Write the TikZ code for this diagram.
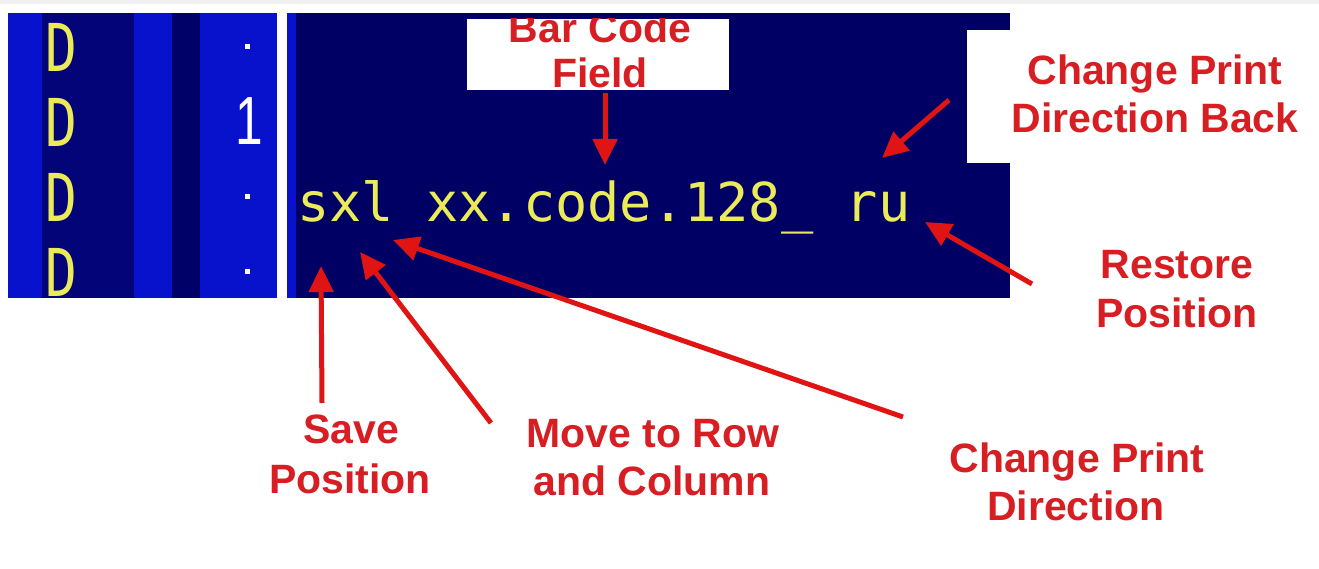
\documentclass[tikz,border=0pt]{standalone}
\usepackage{fontspec}
\usepackage{graphicx}
\setmainfont{Liberation Sans}
\newfontfamily\monofont{DejaVu Sans Mono}
\usetikzlibrary{arrows.meta}
\definecolor{navy}{RGB}{0,0,100}
\definecolor{midblue}{RGB}{2,4,120}
\definecolor{darkstripe}{RGB}{0,0,105}
\definecolor{brightblue}{RGB}{8,18,205}
\definecolor{lblred}{RGB}{215,30,35}
\definecolor{arrred}{RGB}{225,20,20}
\definecolor{termyellow}{RGB}{235,235,90}
\begin{document}
\begin{tikzpicture}[x=1pt,y=-1pt,
  lab/.style={text=lblred, font=\fontsize{41}{48}\selectfont\bfseries, inner sep=0pt, anchor=base},
  pointer/.style={draw=arrred, line width=5pt, -{Triangle[length=26pt,width=24pt]}},
  dletter/.style={text=termyellow, font=\monofont\fontsize{66}{70}\selectfont, inner sep=0pt},
  dotmark/.style={fill=white, minimum size=5pt, inner sep=0pt}]
\useasboundingbox (0,0) rectangle (1319,569);
\fill[white] (0,0) rectangle (1319,569);
\fill[gray!12] (0,0) rectangle (1319,4);
% left panel
\fill[brightblue] (8,13) rectangle (277,298);
\fill[midblue] (42,13) rectangle (134,298);
\fill[darkstripe] (172,13) rectangle (200,298);
\node[dletter] (d1) at (61,47.5) {\scalebox{0.8}[1]{D}};
\node[dletter] (d2) at (61,122.5) {\scalebox{0.8}[1]{D}};
\node[dletter] (d3) at (61,197.5) {\scalebox{0.8}[1]{D}};
\node[dletter] (d4) at (61,272.5) {\scalebox{0.8}[1]{D}};
\node[dotmark] (p1) at (247,47) {};
\node[text=white, font=\fontsize{62}{62}\selectfont, inner sep=0pt] (one) at (249,121) {\scalebox{0.8}[1.1]{1}};
\node[dotmark] (p3) at (247,197) {};
\node[dotmark] (p4) at (247,272) {};
% right panel
\fill[navy] (287,13) rectangle (1010,298);
\fill[brightblue] (287,13) rectangle (296,298);
\fill[white] (967,30) rectangle (1010,163);
\node[fill=white, minimum width=262pt, minimum height=71pt, inner sep=0pt] (bcbox) at (598,54.5) {};
\begin{scope}
\clip (467,19) rectangle (729,90);
\node[lab] (bc1) at (600,43) {Bar Code};
\node[lab] (bc2) at (600,88) {Field};
\end{scope}
\node[text=termyellow, font=\monofont\fontsize{53.6}{60}\selectfont, inner sep=0pt, anchor=base west] (cmd) at (297,222) {sxl xx.code.128\_ ru};
% labels
\node[lab] (cpb1) at (1155,85) {Change Print};
\node[lab] (cpb2) at (1155,133) {Direction Back};
\node[lab] (rp1) at (1177,279) {Restore};
\node[lab] (rp2) at (1177,327) {Position};
\node[lab] (cpd1) at (1077,472) {Change Print};
\node[lab] (cpd2) at (1076,520) {Direction};
\node[lab] (sp1) at (351,443) {Save};
\node[lab] (sp2) at (350,493) {Position};
\node[lab] (mrc1) at (653,447) {Move to Row};
\node[lab] (mrc2) at (652,495) {and Column};
% arrow ends
\coordinate (bcT) at (605,93);   \coordinate (bcH) at (605,165);
\coordinate (cpbT) at (949,100); \coordinate (cpbH) at (882,158);
\coordinate (rpT) at (1032,284); \coordinate (rpH) at (925,222);
\coordinate (spT) at (322,403);  \coordinate (spH) at (321,266);
\coordinate (mrcT) at (491,423); \coordinate (mrcH) at (360,252);
\coordinate (cpdT) at (903,417); \coordinate (cpdH) at (393,240);
\draw[pointer] (bcT) -- (bcH);
\draw[pointer] (cpbT) -- (cpbH);
\draw[pointer] (rpT) -- (rpH);
\draw[pointer] (spT) -- (spH);
\draw[pointer] (mrcT) -- (mrcH);
\draw[pointer] (cpdT) -- (cpdH);
\end{tikzpicture}
\end{document}
